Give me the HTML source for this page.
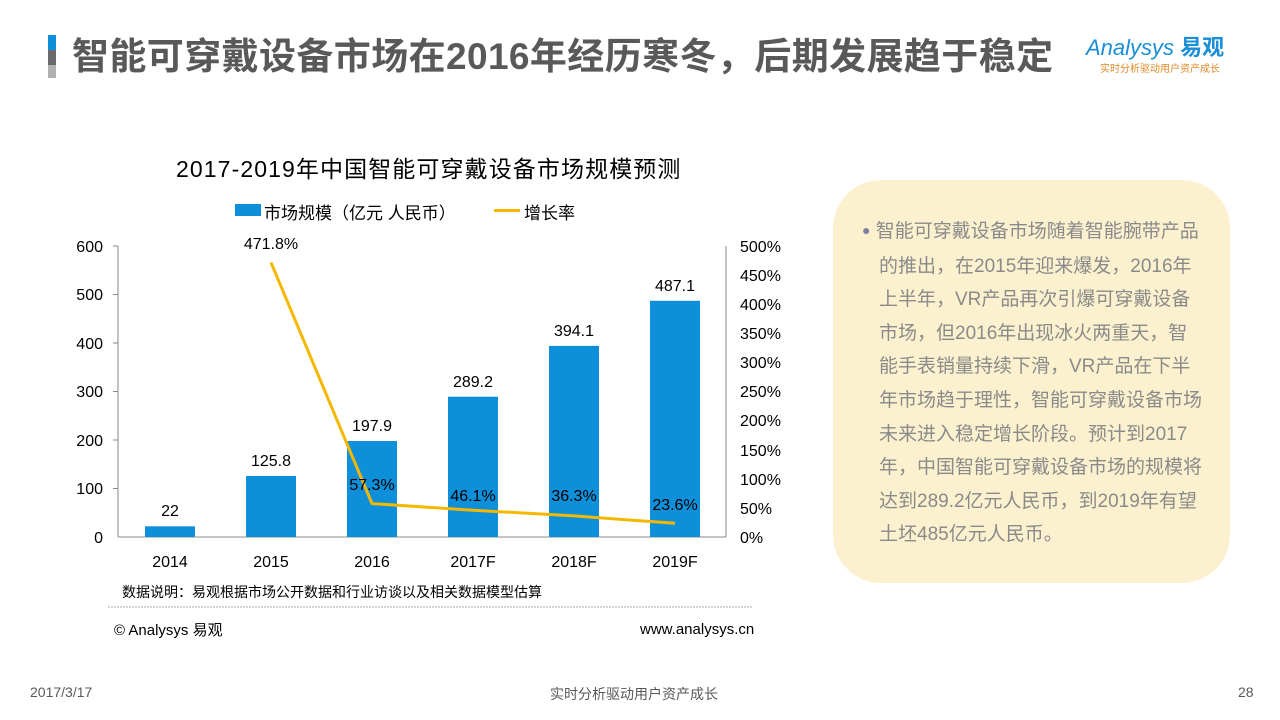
<!DOCTYPE html>
<html><head><meta charset="utf-8"><style>
body{margin:0;width:1280px;height:720px;background:#fff;position:relative;overflow:hidden;font-family:"Liberation Sans","Noto Sans CJK SC",sans-serif;}
.a{position:absolute;white-space:nowrap;}
</style></head><body>
<div class="a" style="left:48px;top:35px;width:8px;height:15px;background:#0e8fd9"></div>
<div class="a" style="left:48px;top:50px;width:8px;height:15px;background:#6b6b6b"></div>
<div class="a" style="left:48px;top:65px;width:8px;height:13px;background:#b0b0b0"></div>
<div class="a" style="left:72px;top:34px;font-size:37px;font-weight:bold;color:#595959;line-height:46px;letter-spacing:0.4px">智能可穿戴设备市场在2016年经历寒冬，后期发展趋于稳定</div>
<div class="a" style="left:1086px;top:30px;font-size:22px;color:#1a8fd6;font-style:italic">Analysys <b style="font-style:normal">易观</b></div>
<div class="a" style="left:1100px;top:60px;font-size:10px;color:#e08a2a">实时分析驱动用户资产成长</div>

<div class="a" style="left:176px;top:150px;font-size:23px;color:#000;letter-spacing:1.1px">2017-2019年中国智能可穿戴设备市场规模预测</div>
<div class="a" style="left:235px;top:204px;width:26px;height:12px;background:#0e8fd9"></div>
<div class="a" style="left:264px;top:199px;font-size:17px;color:#000">市场规模（亿元 人民币）</div>
<div class="a" style="left:494px;top:209px;width:26px;height:3px;background:#f5b800"></div>
<div class="a" style="left:524px;top:199px;font-size:17px;color:#000">增长率</div>

<svg class="a" style="left:0;top:0" width="1280" height="720">
<g font-family="Liberation Sans,sans-serif" font-size="16" fill="#000">
<line x1="118" y1="246" x2="118" y2="537" stroke="#888"/>
<line x1="118" y1="537" x2="726" y2="537" stroke="#888"/>
<line x1="726" y1="246" x2="726" y2="537" stroke="#888"/>
<g stroke="#888">
<line x1="113" y1="246" x2="118" y2="246"/><line x1="113" y1="294.5" x2="118" y2="294.5"/><line x1="113" y1="343" x2="118" y2="343"/><line x1="113" y1="391.5" x2="118" y2="391.5"/><line x1="113" y1="440" x2="118" y2="440"/><line x1="113" y1="488.5" x2="118" y2="488.5"/>
</g>
<g text-anchor="end"><text x="103" y="252">600</text><text x="103" y="300">500</text><text x="103" y="349">400</text><text x="103" y="397">300</text><text x="103" y="446">200</text><text x="103" y="494">100</text><text x="103" y="543">0</text></g>
<g><text x="740" y="252">500%</text><text x="740" y="281">450%</text><text x="740" y="310">400%</text><text x="740" y="339">350%</text><text x="740" y="368">300%</text><text x="740" y="397">250%</text><text x="740" y="426">200%</text><text x="740" y="456">150%</text><text x="740" y="485">100%</text><text x="740" y="514">50%</text><text x="740" y="543">0%</text></g>
<g fill="#0e8fd9">
<rect x="145" y="526.3" width="50" height="10.7"/>
<rect x="246" y="476" width="50" height="61"/>
<rect x="347" y="441" width="50" height="96"/>
<rect x="448" y="396.7" width="50" height="140.3"/>
<rect x="549" y="345.9" width="50" height="191.1"/>
<rect x="650" y="300.8" width="50" height="236.2"/>
</g>
<polyline points="271,262.5 372,503.6 473,510.2 574,515.9 675,523.3" fill="none" stroke="#f5b800" stroke-width="3"/>
<g text-anchor="middle">
<text x="170" y="516">22</text><text x="271" y="466">125.8</text><text x="372" y="431">197.9</text><text x="473" y="387">289.2</text><text x="574" y="336">394.1</text><text x="675" y="291">487.1</text>
<text x="271" y="249">471.8%</text><text x="372" y="490">57.3%</text><text x="473" y="501">46.1%</text><text x="574" y="501">36.3%</text><text x="675" y="510">23.6%</text>
<text x="170" y="567">2014</text><text x="271" y="567">2015</text><text x="372" y="567">2016</text><text x="473" y="567">2017F</text><text x="574" y="567">2018F</text><text x="675" y="567">2019F</text>
</g>
<line x1="108" y1="607" x2="752" y2="607" stroke="#aaa" stroke-dasharray="2,1"/>
</g>
</svg>
<div class="a" style="left:122px;top:582px;font-size:14px;color:#000">数据说明：易观根据市场公开数据和行业访谈以及相关数据模型估算</div>
<div class="a" style="left:114px;top:619px;font-size:15px;color:#000">© Analysys 易观</div>
<div class="a" style="left:640px;top:621px;font-size:15px;color:#000">www.analysys.cn</div>

<div class="a" style="left:833px;top:180px;width:397px;height:403px;border-radius:48px;background:#fcf1cf"></div>
<div class="a" style="left:862px;top:215px;font-size:19px;color:#8a8a8a;line-height:33.6px">
<span style="color:#7f7f9f;font-size:14px;position:relative;top:-2px">●</span> 智能可穿戴设备市场随着智能腕带产品<br>
<span style="padding-left:17px">的推出，在2015年迎来爆发，2016年</span><br>
<span style="padding-left:17px">上半年，VR产品再次引爆可穿戴设备</span><br>
<span style="padding-left:17px">市场，但2016年出现冰火两重天，智</span><br>
<span style="padding-left:17px">能手表销量持续下滑，VR产品在下半</span><br>
<span style="padding-left:17px">年市场趋于理性，智能可穿戴设备市场</span><br>
<span style="padding-left:17px">未来进入稳定增长阶段。预计到2017</span><br>
<span style="padding-left:17px">年，中国智能可穿戴设备市场的规模将</span><br>
<span style="padding-left:17px">达到289.2亿元人民币，到2019年有望</span><br>
<span style="padding-left:17px">土坯485亿元人民币。</span>
</div>

<div class="a" style="left:30px;top:684px;font-size:14px;color:#595959">2017/3/17</div>
<div class="a" style="left:550px;top:684px;font-size:14px;color:#595959">实时分析驱动用户资产成长</div>
<div class="a" style="left:1238px;top:684px;font-size:14px;color:#595959">28</div>
</body></html>
